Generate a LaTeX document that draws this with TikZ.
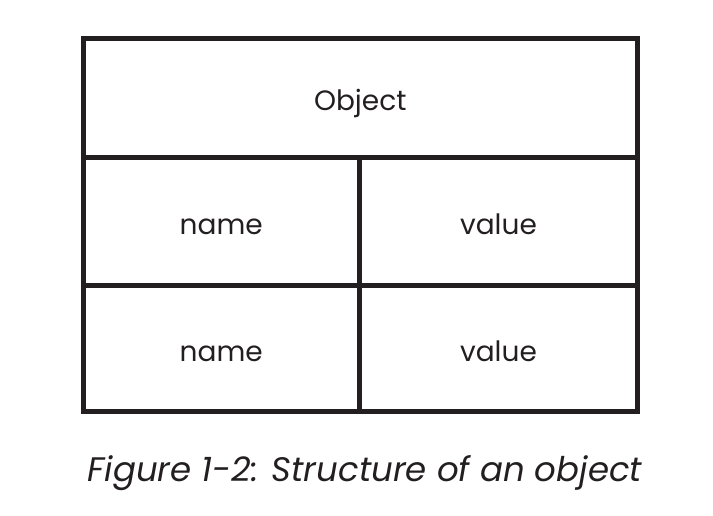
\documentclass[tikz,border=0pt]{standalone}
\usepackage{fontspec}
\setmainfont{Poppins}
\usepackage{tikz}
\tikzset{every picture/.style={line width=0.75pt}}
\tikzset{cell/.style={draw={rgb,255:red,35;green,31;blue,32},line width=5pt,inner sep=0pt,outer sep=0pt,text height=26pt,text depth=0pt,font=\fontsize{28}{33}\selectfont,text={rgb,255:red,35;green,31;blue,32}}}

\begin{document}
\begin{tikzpicture}[x=1pt,y=1pt,yscale=-1,xscale=1]
\useasboundingbox (0,0) rectangle (713,515);

%Shape: Rectangle [id:obj]
\node[cell,minimum width=554.5pt,minimum height=119.5pt] (obj) at (360.25,97.75) {Object};
%Shape: Rectangle [id:name1]
\node[cell,minimum width=276.5pt,minimum height=127.5pt,anchor=north west] (name1) at (obj.south west) {name};
%Shape: Rectangle [id:value1]
\node[cell,minimum width=278pt,minimum height=127.5pt,anchor=north west] (value1) at (name1.north east) {value};
%Shape: Rectangle [id:name2]
\node[cell,minimum width=276.5pt,minimum height=126.5pt,anchor=north west] (name2) at (name1.south west) {name};
%Shape: Rectangle [id:value2]
\node[cell,minimum width=278pt,minimum height=126.5pt,anchor=north west] (value2) at (name2.north east) {value};

%Text: caption
\node[font=\fontsize{34}{40}\selectfont\itshape,text={rgb,255:red,35;green,31;blue,32},inner sep=0pt,anchor=base] (caption) at (365,481) {Figure 1-2: Structure of an object};

\end{tikzpicture}
\end{document}
